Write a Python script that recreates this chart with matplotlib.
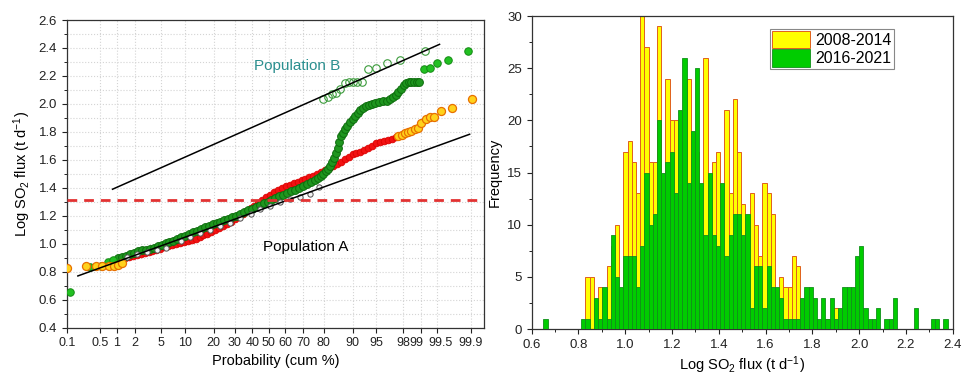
import numpy as np
import matplotlib.pyplot as plt
import matplotlib.transforms as mtransforms
from matplotlib.ticker import MultipleLocator, FixedLocator
from statistics import NormalDist

plt.rcParams['font.family'] = ['Liberation Sans', 'DejaVu Sans']
plt.rcParams['mathtext.default'] = 'regular'

# ---- probability plot data (x = normal score of the cumulative probability, y = log SO2 flux)
# 2016-2021, sparse points at the tails
green_tail_z = [-3.04, -2.74, -2.57, -2.46, -2.38, 2.37, 2.46, 2.57, 2.74, 3.04]
green_tail_v = [0.655, 0.837, 0.844, 0.870, 0.882, 2.247, 2.254, 2.295, 2.314, 2.378]
# 2016-2021, dense band
green_z = [-2.30, -2.24, -2.18, -2.12, -2.06, -2.00, -1.94, -1.88, -1.82, -1.76, -1.70, -1.64,
           -1.58, -1.52, -1.46, -1.40, -1.34, -1.28, -1.22, -1.16, -1.10, -1.04, -0.98, -0.92,
           -0.86, -0.80, -0.74, -0.68, -0.62, -0.56, -0.50, -0.44, -0.38, -0.32, -0.26, -0.20,
           -0.14, -0.08, -0.02, 0.04, 0.10, 0.16, 0.22, 0.28, 0.34, 0.40, 0.46, 0.52, 0.58,
           0.64, 0.70, 0.75, 0.79, 0.83, 0.87, 0.90, 0.93, 0.96, 0.99, 1.02, 1.05, 1.08, 1.11,
           1.14, 1.17, 1.20, 1.24, 1.28, 1.32, 1.36, 1.40, 1.44, 1.48, 1.53, 1.58, 1.63, 1.68,
           1.74, 1.80, 1.85, 1.90, 1.94, 1.98, 2.02, 2.06, 2.10, 2.14, 2.18, 2.22, 2.26, 2.30]
green_v = [0.895, 0.903, 0.913, 0.925, 0.935, 0.945, 0.953, 0.958, 0.965, 0.972, 0.982, 0.992,
           1.002, 1.013, 1.022, 1.032, 1.045, 1.058, 1.069, 1.081, 1.093, 1.105, 1.117, 1.128,
           1.140, 1.150, 1.158, 1.170, 1.180, 1.190, 1.202, 1.213, 1.226, 1.239, 1.252, 1.264,
           1.275, 1.288, 1.301, 1.314, 1.327, 1.340, 1.351, 1.363, 1.376, 1.387, 1.399, 1.412,
           1.428, 1.442, 1.456, 1.470, 1.484, 1.500, 1.518, 1.535, 1.555, 1.585, 1.615, 1.650,
           1.685, 1.728, 1.768, 1.795, 1.822, 1.845, 1.868, 1.890, 1.912, 1.935, 1.958, 1.972,
           1.982, 1.992, 2.000, 2.007, 2.013, 2.018, 2.023, 2.033, 2.050, 2.066, 2.086, 2.110,
           2.134, 2.150, 2.159, 2.159, 2.159, 2.159, 2.159]

# 2008-2014, central band (red)
red_z = [-2.20, -2.14, -2.08, -2.02, -1.96, -1.90, -1.84, -1.78, -1.72, -1.66, -1.60, -1.54,
         -1.48, -1.42, -1.36, -1.30, -1.24, -1.18, -1.12, -1.06, -1.00, -0.94, -0.88, -0.82,
         -0.76, -0.70, -0.64, -0.58, -0.52, -0.46, -0.40, -0.34, -0.28, -0.22, -0.16, -0.10,
         -0.04, 0.02, 0.08, 0.14, 0.20, 0.26, 0.32, 0.38, 0.44, 0.50, 0.56, 0.62, 0.68, 0.74,
         0.80, 0.86, 0.92, 0.98, 1.04, 1.10, 1.16, 1.22, 1.28, 1.34, 1.40, 1.46, 1.52, 1.58,
         1.64, 1.70, 1.76, 1.82, 1.88, 1.94]
red_v = [0.900, 0.908, 0.915, 0.921, 0.927, 0.934, 0.942, 0.949, 0.957, 0.965, 0.974, 0.983,
         0.990, 0.996, 1.006, 1.014, 1.020, 1.028, 1.037, 1.049, 1.061, 1.072, 1.086, 1.099,
         1.111, 1.126, 1.142, 1.158, 1.176, 1.193, 1.213, 1.235, 1.253, 1.268, 1.294, 1.313,
         1.334, 1.352, 1.369, 1.383, 1.399, 1.412, 1.423, 1.432, 1.442, 1.455, 1.466, 1.477,
         1.487, 1.496, 1.514, 1.528, 1.542, 1.557, 1.571, 1.586, 1.604, 1.623, 1.640, 1.649,
         1.658, 1.670, 1.683, 1.701, 1.717, 1.727, 1.732, 1.741, 1.752, 1.764]

# 2008-2014, tails (yellow/orange)
orange_z = [-3.08, -2.80, -2.64, -2.55, -2.45, -2.37, -2.30, -2.24,
            1.98, 2.03, 2.08, 2.13, 2.18, 2.23, 2.28, 2.33, 2.40, 2.46, 2.53, 2.64, 2.80, 3.10]
orange_v = [0.829, 0.844, 0.844, 0.844, 0.842, 0.842, 0.849, 0.860,
            1.771, 1.780, 1.790, 1.799, 1.809, 1.818, 1.830, 1.861, 1.892, 1.904, 1.904, 1.949,
            1.969, 2.033]

popB_z = [0.83, 0.90, 0.96, 1.03, 1.09, 1.16, 1.23, 1.29, 1.35, 1.42, 1.52, 1.64, 1.80, 2.00, 2.39]
popB_v = [2.033, 2.052, 2.071, 2.080, 2.104, 2.147, 2.159, 2.159, 2.154, 2.159, 2.247, 2.254,
          2.295, 2.314, 2.378]

popA_z = [-2.17, -2.01, -1.86, -1.71, -1.58, -1.35, -1.20, -1.05, -0.90, -0.74, -0.59, -0.44,
          -0.28, -0.13, 0.02, 0.17, 0.33, 0.48, 0.63, 0.76]
popA_v = [0.908, 0.927, 0.944, 0.956, 0.968, 1.023, 1.046, 1.075, 1.099, 1.127, 1.151, 1.182,
          1.213, 1.246, 1.273, 1.296, 1.318, 1.337, 1.356, 1.408]

lineA_z = [-2.92, 3.07]
lineA_v = [0.770, 1.783]
lineB_z = [-2.39, 2.61]
lineB_v = [1.390, 2.426]
threshold = 1.31

prob_ticks = [0.1, 0.5, 1, 2, 5, 10, 20, 30, 40, 50, 60, 70, 80, 90, 95, 98, 99, 99.5, 99.9]
prob_labels = ['0.1', '0.5', '1', '2', '5', '10', '20', '30', '40', '50', '60', '70', '80',
               '90', '95', '98', '99', '99.5', '99.9']

# ---- histogram data
bin_start = 0.650
bin_width = 0.018
counts_2016 = [1, 0, 0, 0, 0, 0, 0, 0, 0, 1,
               1, 0, 3, 1, 4, 1, 9, 5, 4, 7,
               7, 7, 4, 8, 15, 10, 11, 20, 15, 16,
               17, 13, 21, 26, 14, 19, 25, 14, 9, 15,
               9, 8, 14, 7, 9, 11, 11, 9, 11, 2,
               6, 6, 2, 6, 4, 4, 3, 1, 1, 1,
               1, 3, 4, 4, 3, 1, 3, 1, 3, 1,
               2, 4, 4, 4, 7, 8, 2, 1, 1, 2,
               0, 1, 1, 3, 0, 0, 0, 0, 2, 0,
               0, 0, 1, 1, 0, 1]
counts_2008 = [0, 0, 0, 0, 0, 0, 0, 0, 0, 0,
               5, 5, 2, 4, 3, 6, 8, 10, 3, 17,
               18, 16, 13, 30, 27, 16, 16, 29, 14, 24,
               20, 20, 15, 18, 24, 14, 17, 10, 26, 11,
               16, 17, 10, 21, 13, 22, 17, 12, 9, 13,
               10, 7, 14, 13, 11, 3, 5, 4, 4, 7,
               6, 2, 2, 1, 1, 0, 0, 1, 1, 2,
               1, 0, 0, 0, 0, 0, 0, 0, 0, 0,
               0, 0, 0, 0, 0, 0, 0, 0, 0, 0,
               0, 0, 0, 0, 0, 0]

nd = NormalDist()

fig = plt.figure(figsize=(9.63, 3.76), dpi=100)
ax1 = fig.add_axes([0.0693, 0.1285, 0.4333, 0.8183])
ax2 = fig.add_axes([0.5521, 0.125, 0.4372, 0.8324])

# ---------- left: probability plot
ax1.plot(red_z, red_v, 'o', ms=4.8, mfc='#f21212', mec='#dc0000', mew=0.6, zorder=3)
ax1.plot(green_z, green_v, 'o', ms=5.6, mfc='#1f961f', mec='#0d6d0d', mew=0.7, zorder=4)
ax1.plot(green_tail_z, green_tail_v, 'o', ms=5.4, mfc='#22c022', mec='#138a13', mew=0.7, zorder=4)
ax1.plot(popA_z, popA_v, 'o', ms=3.8, mfc='#f2f2f2', mec='#505050', mew=0.7, zorder=5)
ax1.plot(popB_z, popB_v, 'o', ms=5.4, mfc='none', mec='#3a9a3a', mew=0.8, zorder=5)
ax1.plot(orange_z, orange_v, 'o', ms=5.8, mfc='#ffd21c', mec='#e87000', mew=0.9, zorder=5)
ax1.plot(lineA_z, lineA_v, color='black', lw=1.1, zorder=6)
ax1.plot(lineB_z, lineB_v, color='black', lw=1.1, zorder=6)
ax1.axhline(threshold, color='#e23232', lw=2, dashes=(3.5, 2.5), zorder=6)

ax1.text(0.44, 2.27, 'Population B', color='#2b8f8f', fontsize=11, ha='center', va='center')
ax1.text(0.56, 0.98, 'Population A', color='black', fontsize=11, ha='center', va='center')

tick_z = [nd.inv_cdf(p / 100) for p in prob_ticks]
ax1.set_xlim(nd.inv_cdf(0.001), 3.29)
ax1.set_ylim(0.4, 2.6)
ax1.xaxis.set_major_locator(FixedLocator(tick_z))
ax1.set_xticklabels(prob_labels)
ax1.yaxis.set_major_locator(MultipleLocator(0.2))
ax1.yaxis.set_minor_locator(MultipleLocator(0.1))
ax1.yaxis.set_major_formatter(plt.FormatStrFormatter('%.1f'))
ax1.grid(True, which='both', color='#d4d4d4', ls=':', lw=0.8)
ax1.set_axisbelow(True)
ax1.set_xlabel('Probability (cum %)', fontsize=10.5, labelpad=3)
ax1.set_ylabel('Log SO$_2$ flux (t d$^{-1}$)', fontsize=10.5, labelpad=4)

# ---------- right: histogram
n = len(counts_2016)
left_edges = bin_start + bin_width * np.arange(n)
ax2.bar(left_edges, counts_2008, width=bin_width, align='edge', color='#ffff00',
        edgecolor='#e0601c', lw=0.7, label='2008-2014', zorder=2)
ax2.bar(left_edges, counts_2016, width=bin_width, align='edge', color='#00cc00',
        edgecolor='#10901a', lw=0.6, label='2016-2021', zorder=3)
ax2.set_xlim(0.6, 2.4)
ax2.set_ylim(0, 30)
ax2.xaxis.set_major_locator(MultipleLocator(0.2))
ax2.xaxis.set_minor_locator(MultipleLocator(0.1))
ax2.xaxis.set_major_formatter(plt.FormatStrFormatter('%.1f'))
ax2.yaxis.set_major_locator(MultipleLocator(5))
ax2.yaxis.set_minor_locator(MultipleLocator(2.5))
ax2.set_xlabel('Log SO$_2$ flux (t d$^{-1}$)', fontsize=10.5, labelpad=3)
ax2.set_ylabel('Frequency', fontsize=10.5, labelpad=4)
leg = ax2.legend(loc='upper left', bbox_to_anchor=(0.565, 0.96), fontsize=11.5,
                 handlelength=2.4, handleheight=1.3, handletextpad=0.3, borderpad=0.15,
                 labelspacing=0.05, fancybox=False, framealpha=1, borderaxespad=0)
leg.get_frame().set_edgecolor('#888888')
leg.get_frame().set_linewidth(0.8)

for ax in (ax1, ax2):
    ax.tick_params(axis='both', which='major', direction='out', length=3.5, width=0.8,
                   labelsize=9.5, colors='#222222')
    ax.tick_params(axis='both', which='minor', direction='out', length=2, width=0.6)
    for s in ax.spines.values():
        s.set_color('#333333')
        s.set_linewidth(0.9)
ax1.tick_params(axis='x', labelsize=9)

# the 99 and 99.5 labels sit very close together: nudge them apart a little
for lab in ax1.get_xticklabels():
    if lab.get_text() == '99':
        lab.set_transform(lab.get_transform() + mtransforms.ScaledTranslation(-3 / 72, 0, fig.dpi_scale_trans))
    elif lab.get_text() == '99.5':
        lab.set_transform(lab.get_transform() + mtransforms.ScaledTranslation(2.5 / 72, 0, fig.dpi_scale_trans))

fig.savefig('out.png', dpi=100)
